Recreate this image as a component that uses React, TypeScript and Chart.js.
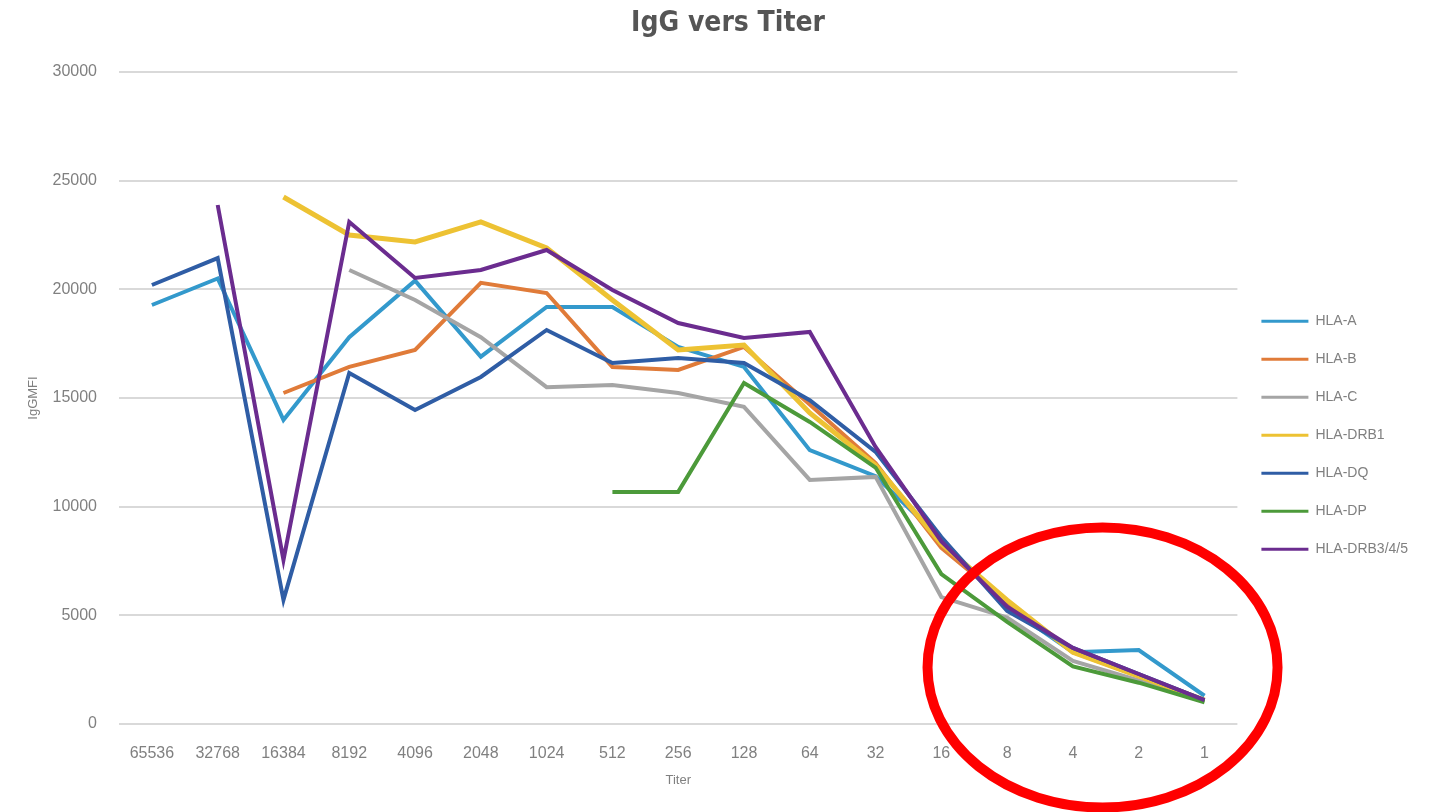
import React, { useEffect, useRef } from "react";
import { Chart, registerables } from "chart.js";

Chart.register(...registerables);

const titers = ["65536", "32768", "16384", "8192", "4096", "2048", "1024", "512", "256", "128", "64", "32", "16", "8", "4", "2", "1"];

const hlaA = [19280, 20500, 13990, 17800, 20400, 16900, 19190, 19190, 17350, 16430, 12600, 11400, 8500, 5400, 3300, 3400, 1300];
const hlaB = [null, null, 15230, 16430, 17210, 20300, 19830, 16430, 16290, 17350, 14700, 12000, 8100, 5600, 3300, 2200, 1100];
const hlaC = [null, null, null, 20890, 19510, 17800, 15500, 15600, 15230, 14590, 11230, 11370, 5840, 4900, 2900, 2000, 1050];
const hlaDRB1 = [null, null, 24250, 22500, 22180, 23100, 21900, 19510, 17210, 17440, 14310, 11900, 8300, 5700, 3300, 2200, 1100];
const hlaDQ = [20200, 21440, 5710, 16150, 14450, 15970, 18130, 16610, 16840, 16610, 14900, 12520, 8600, 5200, 3500, 2300, 1100];
const hlaDP = [null, null, null, null, null, null, null, 10680, 10680, 15690, 13900, 11800, 6900, 4700, 2650, 1900, 1000];
const hlaDRB345 = [null, 23880, 7550, 23100, 20520, 20890, 21810, 19970, 18450, 17760, 18040, 12750, 8400, 5400, 3500, 2300, 1100];

const seriesNames = ["HLA-A", "HLA-B", "HLA-C", "HLA-DRB1", "HLA-DQ", "HLA-DP", "HLA-DRB3/4/5"];
const seriesValues = [hlaA, hlaB, hlaC, hlaDRB1, hlaDQ, hlaDP, hlaDRB345];
const seriesColors = ["#3399CC", "#E07B39", "#A5A5A5", "#EDC233", "#2F5DA5", "#4C9A3A", "#6B2C8F"];

const yTicks = [0, 5000, 10000, 15000, 20000, 25000, 30000];

const chartTitle = "IgG vers Titer";

// red annotation ellipse, centred in data space
const ellipseCenterIndex = 14.45;
const ellipseCenterValue = 2600;

const TEXT = "#808080";
const TITLE_FONT = "bold 28px 'DejaVu Sans Condensed', 'Liberation Sans Narrow', sans-serif";

const overlayPlugin = {
  id: "overlay",
  afterDraw(chart: any) {
    const { ctx, scales, width } = chart;
    ctx.save();
    // title centred on the full canvas
    ctx.font = TITLE_FONT;
    ctx.fillStyle = "#555555";
    ctx.textAlign = "center";
    ctx.textBaseline = "middle";
    ctx.fillText(chartTitle, width / 2, 24);
    // red ellipse annotation
    const cx = scales.x.getPixelForValue(ellipseCenterIndex);
    const cy = scales.y.getPixelForValue(ellipseCenterValue);
    ctx.beginPath();
    ctx.ellipse(cx, cy, 175, 140, 0, 0, Math.PI * 2);
    ctx.strokeStyle = "#FF0000";
    ctx.lineWidth = 10;
    ctx.stroke();
    ctx.restore();
  },
};

export default function App() {
  const ref = useRef<HTMLCanvasElement>(null);
  useEffect(() => {
    if (!ref.current) return;
    const chart = new Chart(ref.current, {
      type: "line",
      data: {
        labels: titers,
        datasets: seriesNames.map((name, i) => ({
          label: name,
          data: seriesValues[i],
          borderColor: seriesColors[i],
          backgroundColor: seriesColors[i],
          borderWidth: i === 3 ? 5 : 4,
          pointRadius: 0,
          tension: 0,
          order: seriesNames.length - i,
        })),
      },
      options: {
        responsive: false,
        animation: false,
        layout: { padding: { top: 0, left: 0, right: 38, bottom: 24 } },
        plugins: {
          tooltip: { enabled: false },
          title: {
            display: true,
            text: chartTitle,
            color: "rgba(0,0,0,0)",
            font: { family: "'DejaVu Sans Condensed', 'Liberation Sans Narrow', sans-serif", size: 28, weight: "bold" },
            padding: { top: 9, bottom: 29.4 },
          },
          legend: {
            position: "right",
            title: { display: true, text: "", padding: { top: 68, bottom: 0 } },
            labels: {
              color: TEXT,
              font: { family: "'Liberation Sans', sans-serif", size: 14 },
              boxWidth: 47,
              boxHeight: 3,
              padding: 24,
              sort: (a: any, b: any) => a.datasetIndex - b.datasetIndex,
              generateLabels: (chart: any) =>
                Chart.defaults.plugins.legend.labels.generateLabels(chart).map((l: any) => ({ ...l, lineWidth: 0 })),
            },
          },
        },
        scales: {
          x: {
            offset: true,
            afterFit: (scale: any) => {
              scale.height = 64;
            },
            grid: { display: false, drawTicks: false, offset: true },
            border: { display: false },
            ticks: {
              color: TEXT,
              font: { family: "'Liberation Sans', sans-serif", size: 16 },
              padding: 20,
              maxRotation: 0,
              autoSkip: false,
            },
            title: {
              display: true,
              text: "Titer",
              color: TEXT,
              font: { family: "'Liberation Sans', sans-serif", size: 13 },
              padding: { top: 12, bottom: 0 },
            },
          },
          y: {
            min: 0,
            max: 30000,
            afterFit: (scale: any) => {
              scale.width = 119;
            },
            afterBuildTicks: (scale: any) => {
              scale.ticks = yTicks.map((v) => ({ value: v }));
            },
            grid: { color: "#D9D9D9", lineWidth: 2, drawTicks: false },
            border: { display: false },
            ticks: {
              color: TEXT,
              font: { family: "'Liberation Sans', sans-serif", size: 16 },
              padding: 22,
              callback: (v: any) => String(v),
            },
            title: {
              display: true,
              text: "IgGMFI",
              color: TEXT,
              font: { family: "'Liberation Sans', sans-serif", size: 13 },
              padding: { top: 26, bottom: 0 },
            },
          },
        },
      },
      plugins: [overlayPlugin],
    });
    return () => chart.destroy();
  }, []);
  return (
    <div style={{ position: "fixed", left: 0, top: 0, width: 1456, height: 812, background: "#fff" }}>
      <canvas ref={ref} width={1456} height={812} style={{ width: 1456, height: 812, display: "block" }} />
    </div>
  );
}
